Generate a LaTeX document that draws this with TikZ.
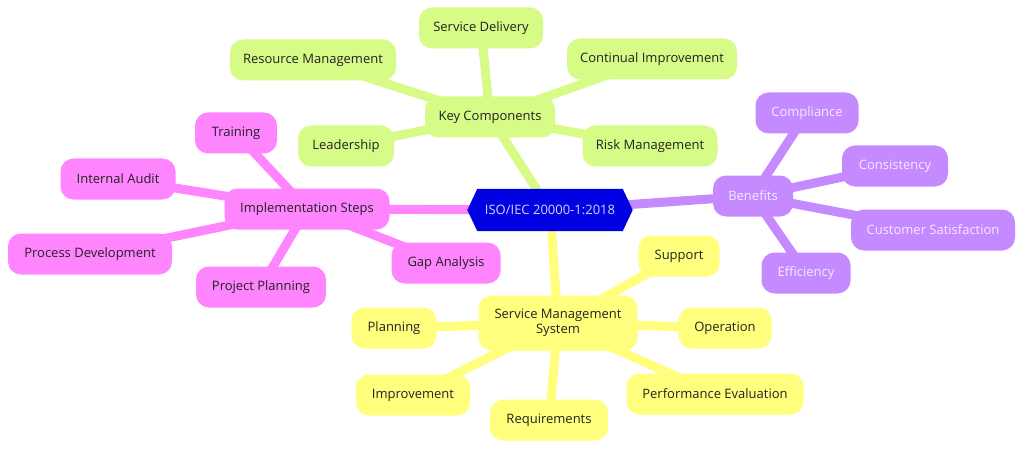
\documentclass[tikz,border=0pt]{standalone}
\usepackage{fontspec}
\setmainfont{Open Sans}
\pgfdeclarelayer{edges}
\pgfdeclarelayer{hexlayer}
\pgfsetlayers{edges,hexlayer,main}
\definecolor{cgreen}{HTML}{D7FB87}
\definecolor{cpink}{HTML}{FF85FF}
\definecolor{cpurple}{HTML}{C58AFF}
\definecolor{cyellow}{HTML}{FFFF7D}
\definecolor{cblue}{HTML}{0000E0}
\definecolor{ctext}{HTML}{222222}
\definecolor{cpurtext}{HTML}{F5EAFF}
\definecolor{chextext}{HTML}{D4D4FF}
\tikzset{
  box/.style={rounded corners=13pt, minimum height=41pt, inner xsep=4pt, inner ysep=3pt,
    align=center, text=ctext, font=\fontsize{13}{15.5}\selectfont},
  gbox/.style={box, fill=cgreen},
  pbox/.style={box, fill=cpink},
  ubox/.style={box, fill=cpurple, text=cpurtext},
  ybox/.style={box, fill=cyellow},
  hexnode/.style={minimum width=165pt, minimum height=42pt, inner sep=0pt, text=chextext,
    font=\fontsize{13}{15.5}\selectfont},
  edge/.style={line width=9pt},
  gedge/.style={edge, draw=cgreen},
  pedge/.style={edge, draw=cpink},
  uedge/.style={edge, draw=cpurple},
  yedge/.style={edge, draw=cyellow},
}
\begin{document}
\begin{tikzpicture}[x=1pt,y=-1pt]
\useasboundingbox (0,0) rectangle (1024,449);
% root
\node[hexnode] (root) at (550,210) {ISO/IEC 20000-1:2018};
\begin{pgfonlayer}{hexlayer}
\fill[cblue] (root.west) -- ([xshift=10pt]root.north west) -- ([xshift=-10pt]root.north east)
  -- (root.east) -- ([xshift=-10pt]root.south east) -- ([xshift=10pt]root.south west) -- cycle;
\end{pgfonlayer}
% green
\node[gbox, minimum width=130pt] (kc) at (490,117) {Key Components};
\node[gbox, minimum width=124pt] (sd) at (481,28) {Service Delivery};
\node[gbox, minimum width=166pt] (rm) at (313,60) {Resource Management};
\node[gbox, minimum width=170pt] (ci) at (652,59) {Continual Improvement};
\node[gbox, minimum width=96pt] (ld) at (346,146) {Leadership};
\node[gbox, minimum width=135pt] (rk) at (650,146) {Risk Management};
% purple
\node[ubox, minimum width=80pt] (bf) at (753,196) {Benefits};
\node[ubox, minimum width=103pt] (co) at (807,113) {Compliance};
\node[ubox, minimum width=106pt] (cs) at (895,166) {Consistency};
\node[ubox, minimum width=164pt] (cu) at (933,230) {Customer Satisfaction};
\node[ubox, minimum width=89pt] (ef) at (806,273) {Efficiency};
% pink
\node[pbox, minimum width=165pt] (is) at (307,209) {Implementation Steps};
\node[pbox, minimum width=82pt] (tr) at (236,133) {Training};
\node[pbox, minimum width=115pt] (ia) at (118,179) {Internal Audit};
\node[pbox, minimum width=164pt] (pd) at (90,254) {Process Development};
\node[pbox, minimum width=130pt] (pp) at (261,287) {Project Planning};
\node[pbox, minimum width=109pt] (ga) at (446,263) {Gap Analysis};
% yellow
\node[ybox, minimum width=159pt, minimum height=55pt] (sms) at (558,323) {Service Management\\System};
\node[ybox, minimum width=81pt] (su) at (679,256) {Support};
\node[ybox, minimum width=85pt] (pl) at (394,328) {Planning};
\node[ybox, minimum width=93pt] (op) at (725,328) {Operation};
\node[ybox, minimum width=114pt] (im) at (413,395) {Improvement};
\node[ybox, minimum width=118pt] (rq) at (549,420) {Requirements};
\node[ybox, minimum width=177pt] (pe) at (715,394) {Performance Evaluation};
% edges
\begin{pgfonlayer}{edges}
\draw[gedge] (root.center) -- (kc.center);
\foreach \t in {sd,rm,ci,ld,rk} \draw[gedge] (kc.center) -- (\t.center);
\draw[uedge] (root.center) -- (bf.center);
\foreach \t in {co,cs,cu,ef} \draw[uedge] (bf.center) -- (\t.center);
\draw[pedge] (root.center) -- (is.center);
\foreach \t in {tr,ia,pd,pp,ga} \draw[pedge] (is.center) -- (\t.center);
\draw[yedge] (root.center) -- (sms.center);
\foreach \t in {su,pl,op,im,rq,pe} \draw[yedge] (sms.center) -- (\t.center);
\end{pgfonlayer}
\end{tikzpicture}
\end{document}
